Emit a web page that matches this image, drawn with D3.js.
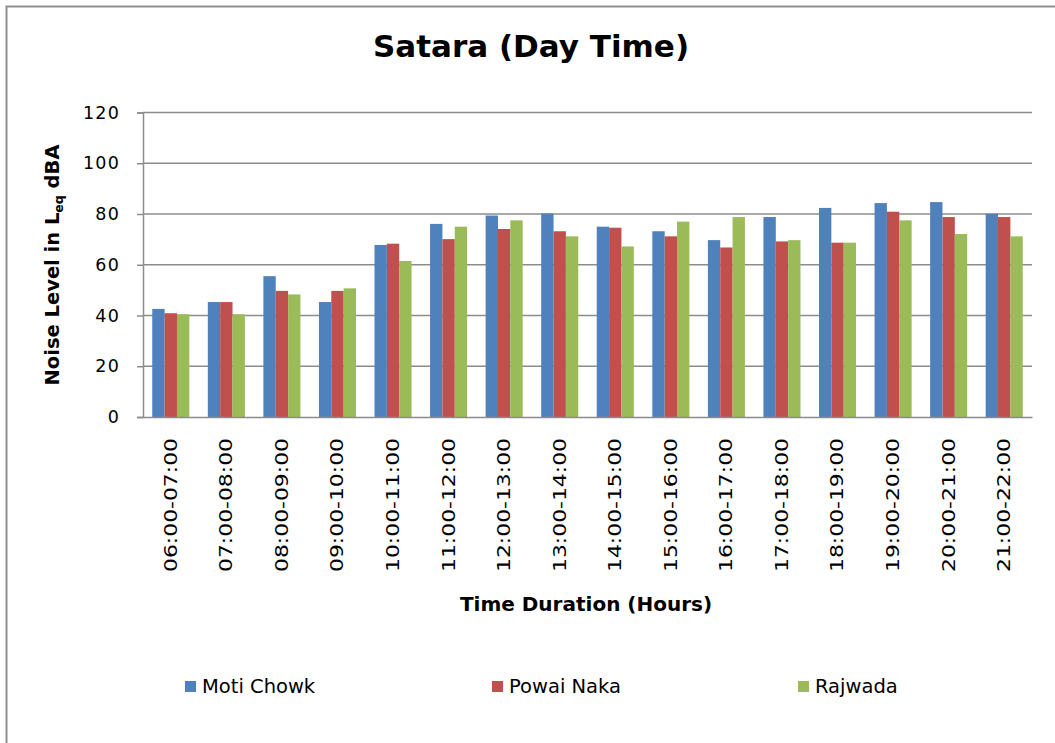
<!DOCTYPE html>
<html>
<head>
<meta charset="utf-8">
<script src="https://cdn.jsdelivr.net/npm/d3@7"></script>
<style>
  body { margin: 0; background: #fff; }
  text { fill: #000; }
</style>
</head>
<body>
<div id="chart"></div>
<script>
// values
var hours = ["06:00-07:00", "07:00-08:00", "08:00-09:00", "09:00-10:00", "10:00-11:00", "11:00-12:00",
             "12:00-13:00", "13:00-14:00", "14:00-15:00", "15:00-16:00", "16:00-17:00", "17:00-18:00",
             "18:00-19:00", "19:00-20:00", "20:00-21:00", "21:00-22:00"];
var motiChowk = [42.6, 45.3, 55.5, 45.3, 67.8, 76.1, 79.4, 80.2, 75.0, 73.2, 69.7, 78.8, 82.4, 84.3, 84.7, 80.1];
var powaiNaka = [40.9, 45.3, 49.7, 49.7, 68.3, 70.1, 74.1, 73.2, 74.6, 71.2, 66.8, 69.2, 68.7, 80.9, 78.8, 78.8];
var rajwada   = [40.5, 40.5, 48.3, 50.7, 61.5, 75.0, 77.5, 71.2, 67.2, 77.0, 78.8, 69.7, 68.7, 77.5, 72.1, 71.2];
var seriesNames = ["Moti Chowk", "Powai Naka", "Rajwada"];
var yTicks = [0, 20, 40, 60, 80, 100, 120];

var seriesValues = [motiChowk, powaiNaka, rajwada];
var colors = ["#4f81bd", "#c0504d", "#9bbb59"];

var W = 1055, H = 743;
var plot = { left: 143, right: 1032, top: 112.5, bottom: 417 };

var svg = d3.select("#chart").append("svg")
    .attr("width", W)
    .attr("height", H);

// outer frame (only top and left are visible in the picture)
svg.append("path")
    .attr("d", "M6.5," + H + "V6.5H" + W)
    .attr("fill", "none")
    .attr("stroke", "#8f8f8f")
    .attr("stroke-width", 2);

var x = d3.scaleBand()
    .domain(hours)
    .range([plot.left, plot.right])
    .paddingInner(0.333)
    .paddingOuter(0.1667);

var xs = d3.scaleBand()
    .domain(seriesNames)
    .range([0, x.bandwidth()]);

var y = d3.scaleLinear()
    .domain([0, 120])
    .range([plot.bottom, plot.top]);

// gridlines
svg.append("g")
  .selectAll("line")
  .data(yTicks.filter(function(d) { return d > 0; }))
  .enter().append("line")
    .attr("x1", plot.left)
    .attr("x2", plot.right)
    .attr("y1", function(d) { return y(d); })
    .attr("y2", function(d) { return y(d); })
    .attr("stroke", "#8c8c8c")
    .attr("stroke-width", 1.5);

// bars
var groups = svg.append("g").selectAll("g")
    .data(seriesNames)
  .enter().append("g")
    .attr("fill", function(d, i) { return colors[i]; });

groups.selectAll("rect")
    .data(function(d, i) {
        return seriesValues[i].map(function(v, j) { return { s: d, hour: hours[j], v: v }; });
    })
  .enter().append("rect")
    .attr("x", function(d) { return x(d.hour) + xs(d.s); })
    .attr("width", xs.bandwidth())
    .attr("y", function(d) { return y(d.v); })
    .attr("height", function(d) { return y(0) - y(d.v); });

// y axis
var yAxis = d3.axisLeft(y).tickValues(yTicks).tickSize(6).tickPadding(17);
var gY = svg.append("g")
    .attr("transform", "translate(" + plot.left + ",0)")
    .call(yAxis);
gY.select(".domain").attr("stroke", "#8c8c8c").attr("stroke-width", 1.5);
gY.selectAll(".tick line").attr("stroke", "#8c8c8c").attr("stroke-width", 1.5);
gY.selectAll(".tick text")
    .attr("font-family", "DejaVu Sans, Verdana, sans-serif")
    .attr("font-size", 17.5)
    .attr("letter-spacing", 1.2)
    .attr("fill", "#000");

// x axis
var xAxis = d3.axisBottom(x).tickSize(0).tickPadding(0);
var gX = svg.append("g")
    .attr("transform", "translate(0," + plot.bottom + ")")
    .call(xAxis);
gX.select(".domain").attr("stroke", "#8c8c8c").attr("stroke-width", 1.5);
gX.selectAll(".tick text")
    .attr("font-family", "DejaVu Sans, Verdana, sans-serif")
    .attr("font-size", 17)
    .attr("fill", "#000")
    .attr("text-anchor", "end")
    .attr("transform", "rotate(-90)")
    .attr("x", -21)
    .attr("y", 0)
    .attr("dy", "0.35em")
    .attr("textLength", 134)
    .attr("lengthAdjust", "spacingAndGlyphs");

// title
svg.append("text")
    .attr("x", 531)
    .attr("y", 57)
    .attr("text-anchor", "middle")
    .attr("font-family", "DejaVu Sans, Verdana, sans-serif")
    .attr("font-weight", "bold")
    .attr("font-size", 31)
    .text("Satara (Day Time)");

// y axis title with subscript
var yt = svg.append("text")
    .attr("transform", "translate(59,265) rotate(-90)")
    .attr("text-anchor", "middle")
    .attr("font-family", "DejaVu Sans, Verdana, sans-serif")
    .attr("font-weight", "bold")
    .attr("font-size", 19.5);
yt.append("tspan").text("Noise Level in L");
yt.append("tspan").attr("font-size", 12.5).attr("dy", 4).text("eq");
yt.append("tspan").attr("dy", -4).text(" dBA");

// x axis title
svg.append("text")
    .attr("x", 586)
    .attr("y", 611)
    .attr("text-anchor", "middle")
    .attr("font-family", "DejaVu Sans, Verdana, sans-serif")
    .attr("font-weight", "bold")
    .attr("font-size", 20)
    .text("Time Duration (Hours)");

// legend
var legendX = [185, 492, 798];
var legend = svg.selectAll(".legend")
    .data(seriesNames)
  .enter().append("g")
    .attr("class", "legend")
    .attr("transform", function(d, i) { return "translate(" + legendX[i] + ",693)"; });

legend.append("rect")
    .attr("x", 0)
    .attr("y", -12)
    .attr("width", 11)
    .attr("height", 11)
    .attr("fill", function(d, i) { return colors[i]; });

legend.append("text")
    .attr("x", 17)
    .attr("y", 0)
    .attr("font-family", "DejaVu Sans, Verdana, sans-serif")
    .attr("font-size", 19.5)
    .text(function(d) { return d; });
</script>
</body>
</html>
